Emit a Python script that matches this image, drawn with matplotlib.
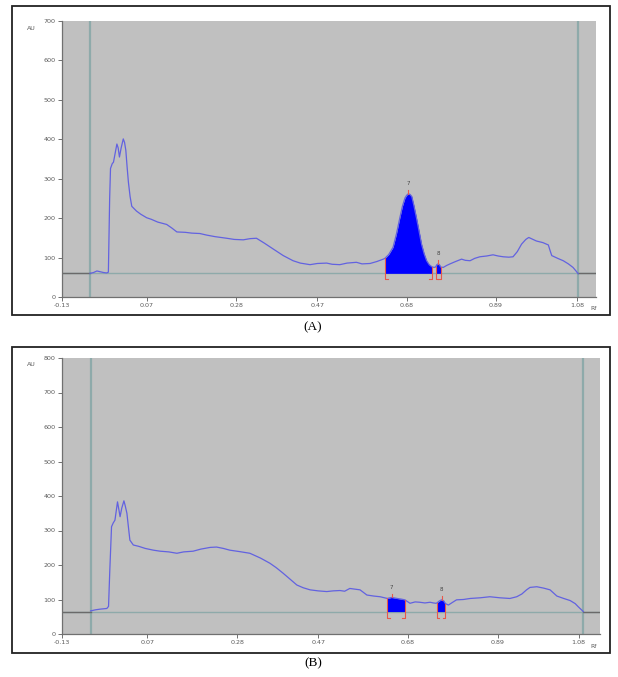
import matplotlib
matplotlib.use("Agg")
import matplotlib.pyplot as plt
import numpy as np
from matplotlib.patches import Rectangle

# --- panel A densitogram (Rf, AU) ---
rf_a = [-0.064, -0.056, -0.048, -0.040, -0.032, -0.025, -0.021, -0.018, -0.016, -0.012,
        -0.009, -0.005, -0.001, 0.002, 0.005, 0.009, 0.014, 0.017, 0.020, 0.023,
        0.026, 0.030, 0.034, 0.045, 0.055, 0.069, 0.080, 0.095, 0.116, 0.128,
        0.140, 0.160, 0.175, 0.194, 0.210, 0.230, 0.257, 0.275, 0.296, 0.312,
        0.327, 0.345, 0.366, 0.390, 0.413, 0.430, 0.453, 0.470, 0.492, 0.505,
        0.523, 0.540, 0.562, 0.575, 0.594, 0.610, 0.625, 0.629, 0.638, 0.648,
        0.656, 0.664, 0.670, 0.676, 0.680, 0.684, 0.688, 0.692, 0.697, 0.703,
        0.709, 0.715, 0.721, 0.727, 0.733, 0.739, 0.744, 0.748, 0.751, 0.754,
        0.757, 0.760, 0.766, 0.774, 0.782, 0.795, 0.809, 0.818, 0.829, 0.840,
        0.852, 0.868, 0.883, 0.895, 0.907, 0.920, 0.930, 0.940, 0.950, 0.960,
        0.967, 0.975, 0.985, 1.000, 1.013, 1.017, 1.021, 1.035, 1.048, 1.060,
        1.071, 1.078, 1.083]
au_a = [60, 62, 66, 64, 62, 61, 63, 250, 326, 338,
        342, 365, 388, 378, 355, 378, 401, 392, 372, 330,
        292, 255, 230, 218, 210, 201, 197, 190, 184, 175,
        165, 164, 162, 161, 157, 153, 149, 146, 145, 148,
        149, 137, 122, 105, 92, 86, 82, 85, 86, 83,
        82, 86, 88, 84, 85, 90, 96, 98, 108, 126,
        160, 201, 230, 251, 258, 262, 260, 255, 232, 201,
        168, 134, 110, 92, 82, 77, 75, 76, 82, 84,
        82, 76, 75, 80, 84, 90, 96, 93, 92, 98,
        102, 104, 107, 104, 102, 101, 102, 115, 134, 146,
        151, 147, 142, 138, 132, 118, 105, 98, 92, 84,
        75, 66, 59]
base_a = 60
window_a = [-0.064, 1.083]
peak_names_a = ["7", "8"]
peak_start_a = [0.629, 0.748]
peak_end_a = [0.739, 0.760]
peak_apex_a = [0.684, 0.754]

# --- panel B densitogram (Rf, AU) ---
rf_b = [-0.063, -0.052, -0.041, -0.033, -0.025, -0.021, -0.018, -0.014, -0.010, -0.006,
        0.000, 0.003, 0.006, 0.010, 0.015, 0.018, 0.022, 0.026, 0.029, 0.037,
        0.050, 0.065, 0.084, 0.100, 0.120, 0.139, 0.155, 0.177, 0.195, 0.217,
        0.232, 0.248, 0.263, 0.285, 0.310, 0.335, 0.357, 0.372, 0.388, 0.405,
        0.420, 0.435, 0.451, 0.470, 0.490, 0.505, 0.521, 0.532, 0.544, 0.556,
        0.568, 0.584, 0.600, 0.615, 0.632, 0.642, 0.655, 0.665, 0.673, 0.685,
        0.697, 0.708, 0.720, 0.732, 0.740, 0.746, 0.748, 0.754, 0.759, 0.764,
        0.768, 0.775, 0.785, 0.794, 0.810, 0.826, 0.850, 0.872, 0.895, 0.919,
        0.935, 0.947, 0.958, 0.966, 0.982, 0.998, 1.013, 1.029, 1.045, 1.060,
        1.072, 1.079, 1.085, 1.091]
au_b = [67, 70, 72, 73, 74, 80, 186, 311, 322, 330,
        383, 362, 340, 365, 386, 372, 350, 305, 272, 258,
        254, 248, 243, 240, 238, 234, 238, 240, 246, 251,
        252, 248, 243, 239, 234, 220, 205, 192, 176, 158,
        142, 134, 128, 125, 123, 125, 126, 124, 132, 130,
        128, 113, 110, 108, 103, 106, 103, 101, 99, 89,
        93, 92, 90, 92, 90, 89, 90, 96, 99, 96,
        88, 84, 92, 99, 100, 103, 105, 108, 105, 103,
        108, 116, 128, 135, 137, 133, 128, 110, 103, 97,
        88, 79, 72, 65]
base_b = 65
window_b = [-0.063, 1.091]
peak_names_b = ["7", "8"]
peak_start_b = [0.632, 0.748]
peak_end_b = [0.673, 0.768]
peak_apex_b = [0.642, 0.759]

xtick_vals = [-0.13, 0.07, 0.28, 0.47, 0.68, 0.89, 1.08]
xtick_labels = ["-0.13", "0.07", "0.28", "0.47", "0.68", "0.89", "1.08"]

LINE = "#6262e0"
TEAL = "#8eaaaa"
RED = "#e8584a"
TXT = "#5a5a5a"


def draw_panel(ax, rf, au, base, window, ymax, names, starts, ends, apexes, xmax):
    rf = np.asarray(rf)
    au = np.asarray(au, dtype=float)
    ax.set_facecolor("#c0c0c0")
    ax.set_xlim(-0.13, xmax)
    ax.set_ylim(0, ymax)

    # baseline, darker outside the integration window
    ax.plot([-0.13, window[0]], [base, base], color="#6a6a6a", lw=1.0, zorder=2)
    ax.plot([window[1], xmax], [base, base], color="#6a6a6a", lw=1.0, zorder=2)
    ax.axhline(base, color=TEAL, lw=1.0, zorder=1)
    for w in window:
        ax.axvline(w, color=TEAL, lw=1.6, zorder=1)

    for s, e in zip(starts, ends):
        ax.fill_between(rf, base, au, where=(rf >= s - 1e-9) & (rf <= e + 1e-9),
                        color="#0000ff", lw=0, zorder=3)
    ax.plot(rf, au, color=LINE, lw=0.9, zorder=4)

    # peak brackets and labels
    dy = ymax * 0.022
    foot = 0.006
    for name, s, e, a in zip(names, starts, ends, apexes):
        for x, d in ((s, foot), (e, -foot)):
            top = np.interp(x, rf, au)
            ax.plot([x, x, x + d], [top, base - dy, base - dy], color=RED, lw=0.8,
                    zorder=5)
        top = np.interp(a, rf, au)
        ax.plot([a, a], [top, top + dy * 0.6], color=RED, lw=0.8, zorder=5)
        ax.text(a, top + dy * 1.3, name, fontsize=4, color="#444444",
                ha="center", va="bottom", zorder=6)

    ax.set_yticks(np.arange(0, ymax + 1, 100))
    ax.set_xticks(xtick_vals)
    ax.set_xticklabels(xtick_labels)
    ax.tick_params(labelsize=4.6, colors=TXT, length=3, width=0.6, pad=1.5)
    for side in ("top", "right"):
        ax.spines[side].set_visible(False)
    for side in ("left", "bottom"):
        ax.spines[side].set_color("#707070")
        ax.spines[side].set_linewidth(0.9)


fig = plt.figure(figsize=(6.18, 6.77), dpi=100)
W, H = 618, 677

ax_a = fig.add_axes([62 / W, 1 - 297 / H, (596 - 62) / W, 276 / H])
draw_panel(ax_a, rf_a, au_a, base_a, window_a, 700, peak_names_a,
           peak_start_a, peak_end_a, peak_apex_a, 1.125)
ax_b = fig.add_axes([62 / W, 1 - 634 / H, (600 - 62) / W, 276 / H])
draw_panel(ax_b, rf_b, au_b, base_b, window_b, 800, peak_names_b,
           peak_start_b, peak_end_b, peak_apex_b, 1.13)

# frames, unit labels, captions
for top, bottom in ((6, 315), (347, 653)):
    fig.patches.append(Rectangle((12 / W, 1 - bottom / H), (610 - 12) / W,
                                 (bottom - top) / H, transform=fig.transFigure,
                                 fill=False, edgecolor="#222222", lw=1.3))
for y_au, y_rf in ((28, 308), (364, 647)):
    fig.text(31 / W, 1 - y_au / H, "AU", fontsize=4.5, color=TXT, ha="center",
             va="center")
    fig.text(594 / W, 1 - y_rf / H, "Rf", fontsize=4.5, color=TXT, ha="center",
             va="center")
fig.text(313 / W, 1 - 327 / H, "(A)", fontsize=9.5, family="Liberation Serif",
         ha="center", va="center")
fig.text(313 / W, 1 - 663 / H, "(B)", fontsize=9.5, family="Liberation Serif",
         ha="center", va="center")

fig.savefig("out.png", dpi=100)
